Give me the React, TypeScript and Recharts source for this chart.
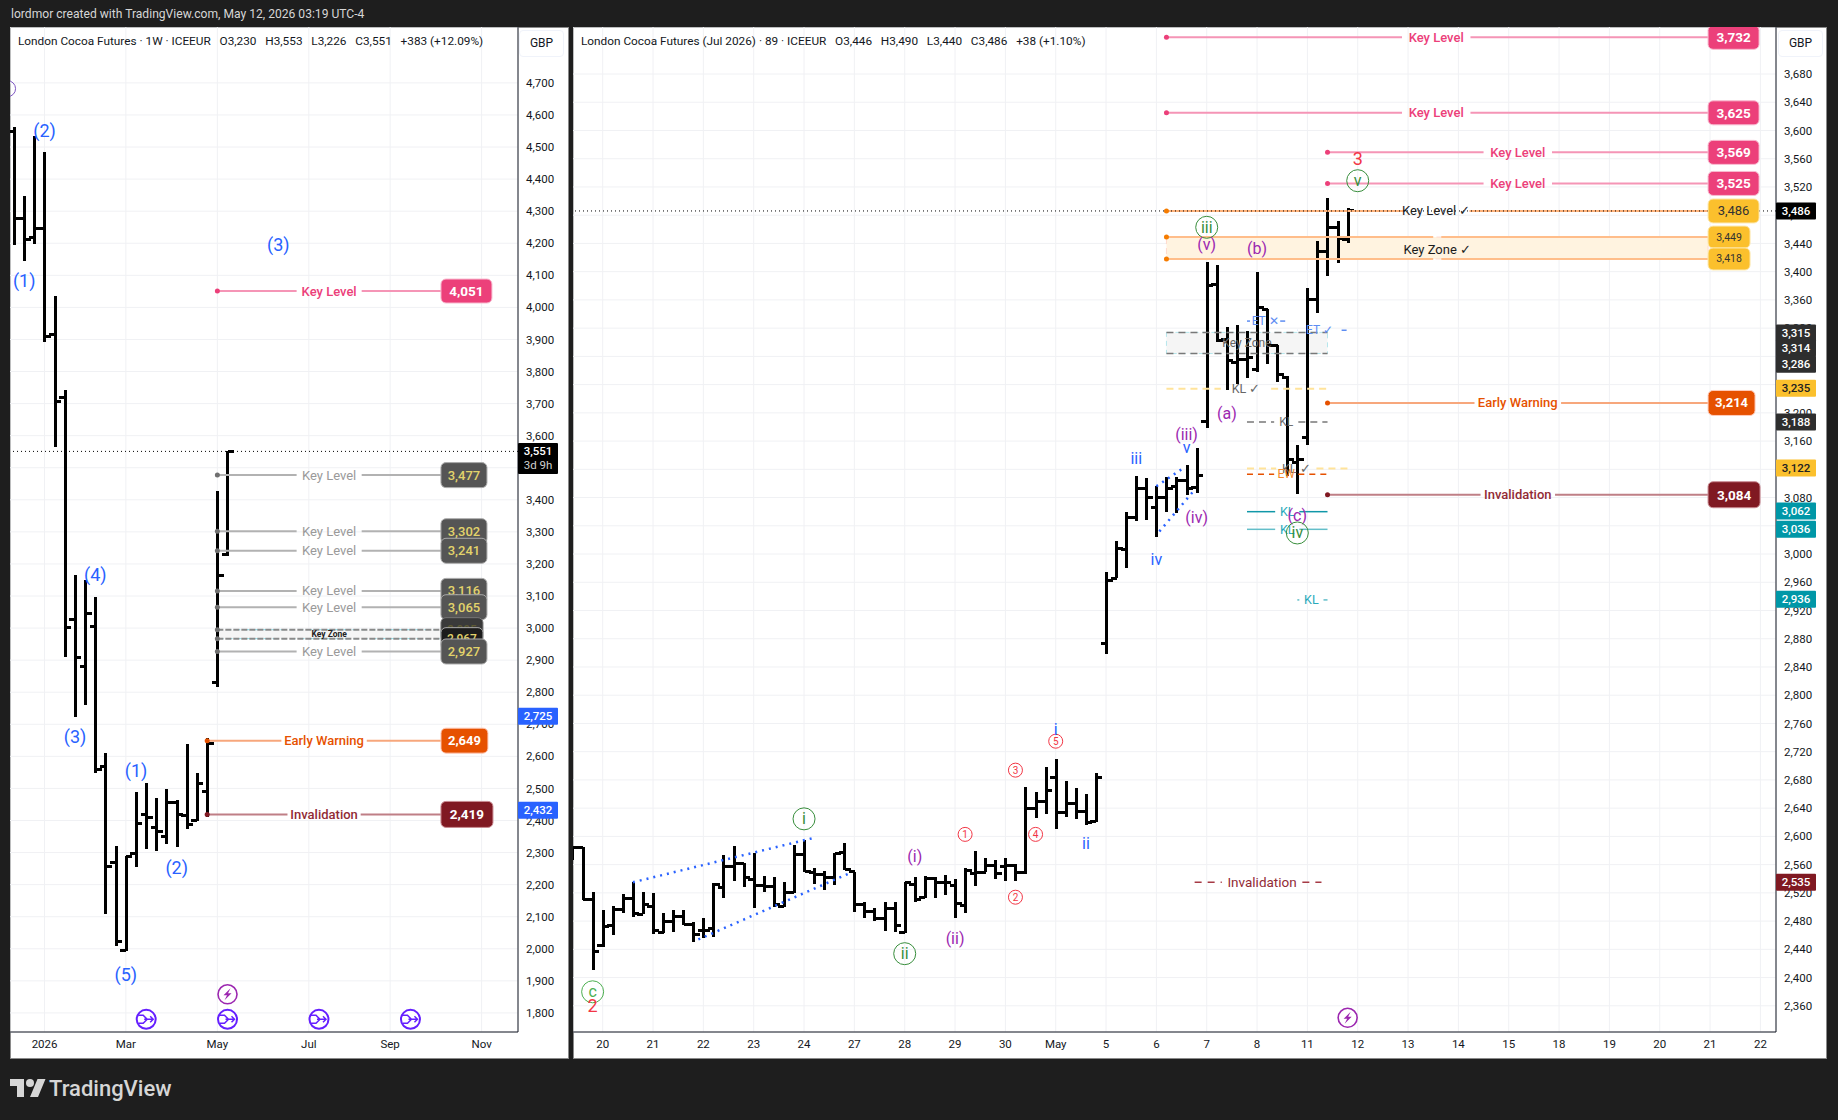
import React from 'react';
import { ComposedChart, Bar, XAxis, YAxis, CartesianGrid, ReferenceLine, ReferenceDot, ReferenceArea } from 'recharts';

const FONT = 'Roboto, "Noto Sans", sans-serif';

/* ---------- weekly chart ---------- */
const weekOpen = [4550,4277,4218,4246,3917,3720,3028,2881,3006,2569,2268,1995,2297,2419,2379,2351,2455,2416,2399,2490,2830,3230];
const weekHigh = [4561,4348,4533,4486,4034,3741,3167,3149,3098,2610,2319,2290,2490,2516,2469,2497,2464,2637,2549,2657,3427,3553];
const weekLow = [4196,4145,4199,3893,3566,2911,2724,2761,2547,2110,2009,1993,2254,2312,2304,2327,2316,2375,2397,2412,2817,3226];
const weekClose = [4277,4212,4246,3909,3705,3003,2909,3045,2560,2258,2023,2288,2390,2410,2366,2455,2419,2388,2516,2639,3165,3551];
const weekTicks = [1800,1900,2000,2100,2200,2300,2400,2500,2600,2700,2800,2900,3000,3100,3200,3300,3400,3500,3600,3700,3800,3900,4000,4100,4200,4300,4400,4500,4600,4700];
const weekDateIdx = [3,11,20,29,37,46];
const weekDateText = ['2026','Mar','May','Jul','Sep','Nov'];

/* ---------- 89 minute chart ---------- */
const hourOpen = [2575,2584,2511,2445,2474,2497,2512,2490,2500,2464,2480,2487,2475,2466,2469,2527,2557,2562,2539,2531,2529,2501,2521,2574,2549,2546,2542,2577,2550,2503,2493,2484,2498,2464,2532,2513,2541,2534,2530,2502,2548,2549,2559,2558,2559,2549,2639,2649,2684,2634,2646,2635,2621,2873,2966,3007,3052,3093,3066,3080,3096,3104,3094,3188,3382,3304,3272,3275,3261,3347,3296,3250,3129,3165,3360,3429,3463,3446];
const hourHigh = [2587,2585,2521,2496,2501,2518,2535,2521,2520,2492,2496,2496,2479,2484,2534,2574,2587,2562,2576,2544,2542,2536,2588,2595,2555,2551,2576,2590,2550,2507,2498,2507,2507,2535,2542,2544,2542,2545,2540,2555,2579,2569,2566,2570,2561,2670,2663,2698,2709,2678,2669,2660,2690,2975,3018,3060,3111,3107,3096,3109,3109,3126,3150,3413,3409,3322,3325,3316,3399,3347,3296,3252,3155,3377,3444,3505,3472,3490];
const hourLow = [2566,2510,2411,2444,2460,2491,2486,2490,2462,2463,2464,2474,2450,2456,2458,2513,2537,2528,2499,2521,2500,2500,2520,2549,2532,2524,2531,2552,2493,2484,2480,2466,2464,2463,2507,2513,2513,2517,2484,2491,2530,2549,2540,2537,2537,2547,2626,2632,2611,2628,2625,2616,2620,2859,2966,2980,3047,3048,3024,3059,3058,3083,3086,3178,3301,3232,3241,3250,3258,3269,3243,3111,3085,3155,3341,3394,3412,3440];
const hourClose = [2584,2511,2437,2473,2497,2512,2491,2504,2466,2480,2487,2475,2461,2466,2532,2557,2562,2542,2531,2529,2503,2521,2574,2550,2546,2542,2576,2553,2503,2493,2483,2498,2474,2534,2510,2541,2534,2535,2505,2551,2549,2559,2547,2559,2549,2639,2649,2665,2634,2646,2635,2620,2684,2963,3008,3052,3093,3080,3080,3093,3104,3093,3111,3381,3303,3274,3275,3279,3349,3295,3255,3134,3134,3360,3429,3463,3447,3486];
const hourTicks = [2360,2400,2440,2480,2520,2560,2600,2640,2680,2720,2760,2800,2840,2880,2920,2960,3000,3040,3080,3120,3160,3200,3240,3280,3320,3360,3400,3440,3480,3520,3560,3600,3640,3680];
const hourDateIdx = [0,5,10,15,20,25,30,35,40,45,50,55,60,65,70,75,80,85,90,95,100,105,110,115];
const hourDateText = ['20','21','22','23','24','27','28','29','30','May','5','6','7','8','11','12','13','14','15','18','19','20','21','22'];

const weekData = weekOpen.map((o, i) => ({ x: i, open: o, high: weekHigh[i], low: weekLow[i], close: weekClose[i], range: [weekLow[i], weekHigh[i]] }));
const hourData = hourOpen.map((o, i) => ({ x: i - 3, open: o, high: hourHigh[i], low: hourLow[i], close: hourClose[i], range: [hourLow[i], hourHigh[i]] }));

/* ---------- annotations: [price, from, to, middle, half gap, text, kind] ---------- */
const weekLevels: any[] = [
  [4051, 20, 42, 31, 3.2, 'Key Level', 'pink'],
  [3477, 20, 42, 31, 3.2, 'Key Level', 'grey'],
  [3302, 20, 42, 31, 3.2, 'Key Level', 'grey'],
  [3241, 20, 42, 31, 3.2, 'Key Level', 'grey'],
  [3116, 20, 42, 31, 3.2, 'Key Level', 'grey'],
  [3065, 20, 42, 31, 3.2, 'Key Level', 'grey'],
  [2995, 20, 42, 31, 0, '', 'zoneGrey'],
  [2967, 20, 42, 31, 0, '', 'zoneBlack'],
  [2927, 20, 42, 31, 3.2, 'Key Level', 'grey'],
  [2649, 19, 42, 30.5, 4.2, 'Early Warning', 'orange'],
  [2419, 19, 42, 30.5, 3.6, 'Invalidation', 'maroon'],
];
const hourLevels: any[] = [
  [3732, 56, 109.8, 82.8, 3.4, 'Key Level', 'pink'],
  [3625, 56, 109.8, 82.8, 3.4, 'Key Level', 'pink'],
  [3569, 72, 109.8, 90.9, 3.4, 'Key Level', 'pink'],
  [3525, 72, 109.8, 90.9, 3.4, 'Key Level', 'pink'],
  [3486, 56, 109.8, 82.8, 3.3, 'Key Level ✓', 'amberBig'],
  [3449, 56, 109.8, 82.9, 0.4, '', 'amber'],
  [3418, 56, 109.8, 82.9, 0.4, '', 'amber'],
  [3214, 72, 109.8, 90.9, 4.3, 'Early Warning', 'orange'],
  [3084, 72, 109.8, 90.9, 3.7, 'Invalidation', 'maroon'],
  [3314, 56, 72, 64, 0, '', 'dashGrey'],
  [3284, 56, 72, 64, 0, '', 'dashGrey'],
  [3330, 64, 68, 65.8, 1.5, 'ET ✕', 'dashBlue'],
  [3317, 69, 74, 71.2, 2.2, 'ET ✓', 'dashBlue'],
  [3234, 56, 72, 63.9, 2.5, 'KL ✓', 'dashYellow'],
  [3187, 64, 72, 67.9, 1.2, 'KL', 'dashGrey'],
  [3121, 64, 74, 68.9, 2, 'KL ✓', 'dashYellow'],
  [3113, 64, 72, 67.9, 1.2, 'EW', 'dashRed'],
  [3060, 64, 72, 68, 1.2, 'KL', 'teal'],
  [3035, 64, 72, 68, 1.2, 'KL', 'tealSoft'],
  [2935, 69, 72, 70.4, 1.2, 'KL', 'tealSoft'],
  [2535, 58.8, 71.4, 65.5, 4, 'Invalidation', 'dashMaroon'],
];
const hourPlainText: any[] = [
  [3431, 82.9, 'Key Zone ✓', 'blackText'],
  [3299, 64, 'Key Zone', 'greyText'],
];
const weekPlainText: any[] = [[2981, 31, 'Key Zone', 'tinyText']];

/* axis tags: [place on the scale, text, kind]; close tags are stacked apart as in the picture */
const weekTags: any[] = [[3551, '3,551', 'clock'], [2725, '2,725', 'blue'], [2432, '2,432', 'blue']];
const hourTags: any[] = [
  [3486, '3,486', 'black'], [3313, '3,315', 'dark'], [3292, '3,314', 'dark'], [3269, '3,286', 'dark'],
  [3235, '3,235', 'yellow'], [3187, '3,188', 'dark'], [3122, '3,122', 'yellow'], [3061, '3,062', 'teal'],
  [3035, '3,036', 'teal'], [2936, '2,936', 'teal'], [2535, '2,535', 'wine'],
];

/* wave counts: [x, price, text, kind] */
const weekWaves: any[] = [
  [3, 4549, '(2)', 'bigBlue'], [1, 4081, '(1)', 'bigBlue'], [26, 4193, '(3)', 'bigBlue'], [8, 3162, '(4)', 'bigBlue'],
  [6, 2659, '(3)', 'bigBlue'], [12, 2553, '(1)', 'bigBlue'], [16, 2249, '(2)', 'bigBlue'], [11, 1915, '(5)', 'bigBlue'],
];
const hourWaves: any[] = [
  [-1, 2378, 'c', 'ringGreenSoft'], [-1, 2358, '2', 'red'], [20, 2623, 'i', 'ringGreen'], [30, 2432, 'ii', 'ringGreen'],
  [31, 2569, '(i)', 'purple'], [35, 2453, '(ii)', 'purple'], [36, 2601, '1', 'ringRed'], [41, 2512, '2', 'ringRed'],
  [41, 2692, '3', 'ringRed'], [43, 2601, '4', 'ringRed'], [45, 2733, '5', 'ringRed'], [45, 2750, 'i', 'blue'],
  [48, 2588, 'ii', 'blue'], [53, 3133, 'iii', 'blue'], [58, 3149, 'v', 'blue'], [58, 3167, '(iii)', 'purple'],
  [59, 3050, '(iv)', 'purple'], [55, 2991, 'iv', 'blue'], [62, 3197, '(a)', 'purple'], [69, 3053, '(c)', 'purple'],
  [69, 3028, 'iv', 'ringGreen'], [60, 3461, 'iii', 'ringGreen'], [60, 3437, '(v)', 'purple'], [65, 3431, '(b)', 'purple'],
  [75, 3558, '3', 'red'], [75, 3527, 'v', 'ringGreen'],
];
/* dotted trend lines: [x1, price1, x2, price2] */
const hourTrends: any[] = [
  [3, 2535, 21, 2598], [9.5, 2454, 24.7, 2549], [55.3, 3032, 58.8, 3091], [55, 3096, 57.6, 3121],
];
/* event icons: [x, price, kind] */
const weekIcons: any[] = [[21, 1858, 'bolt'], [13, 1780, 'arrow'], [21, 1780, 'arrow'], [30, 1780, 'arrow'], [39, 1780, 'arrow']];
const hourIcons: any[] = [[74, 2343, 'bolt']];
const weekBadge: any[] = [[-0.64, 4682]];

/* ---------- styles ---------- */
const levelStyle: Record<string, any> = {
  pink: { line: '#f595b6', w: 2, dot: '#ec407a', color: '#ec407a', fs: 13, fw: 500, box: { fill: '#ec407a', stroke: '#f8bbd0', text: '#fff', w: 51, h: 24, fs: 13.5, fw: 700 } },
  grey: { line: '#b2b2b2', w: 2, dot: '#707070', color: '#9a9a9a', fs: 13, fw: 400, box: { fill: '#555555', stroke: '#aaaaaa', text: '#e2d36b', w: 46, h: 25, fs: 13, fw: 500 } },
  zoneGrey: { line: '#8a8a8a', w: 2, dash: '6 2', dot: '#707070', box: { fill: '#3a3a3a', stroke: '#777', text: '#5e5a35', w: 42, h: 24, fs: 12, fw: 500 } },
  zoneBlack: { line: '#8a8a8a', w: 2, dash: '6 2', dot: '#707070', box: { fill: '#1c1c1c', stroke: '#aaa', text: '#e2d36b', w: 42, h: 22, fs: 12, fw: 500 } },
  orange: { line: '#f7a77c', w: 2, dot: '#e65100', color: '#e65100', fs: 13, fw: 500, box: { fill: '#e65100', stroke: '#ffccbc', text: '#fff', w: 47, h: 25, fs: 13, fw: 700 } },
  maroon: { line: '#bf7f86', w: 2, dot: '#801922', color: '#922b35', fs: 13, fw: 500, box: { fill: '#801922', stroke: '#c98b92', text: '#fff', w: 52, h: 26, fs: 13.5, fw: 700 } },
  amberBig: { line: '#ffb27a', w: 2, dot: '#f57c00', color: '#222', fs: 13, fw: 400, box: { fill: '#fbc02d', stroke: '#fde8ad', text: '#333', w: 51, h: 24, fs: 13, fw: 400 } },
  amber: { line: '#ffbd8a', w: 2, dot: '#f57c00', box: { fill: '#fbc02d', stroke: '#fde8ad', text: '#333', w: 42, h: 22, fs: 10.5, fw: 400 } },
  dashGrey: { line: '#787878', w: 1.5, dash: '7 5', color: '#707070', fs: 12, fw: 400 },
  dashBlue: { line: '#5d8df2', w: 1.5, dash: '5 6', color: '#5d8df2', fs: 12, fw: 400 },
  dashYellow: { line: '#ffe39a', w: 2, dash: '7 5', color: '#666', fs: 12.5, fw: 400 },
  dashRed: { line: '#e65100', w: 1.5, dash: '6 5', color: '#f58a2b', fs: 12, fw: 400 },
  teal: { line: '#1097a8', w: 1.5, color: '#2aa9ba', fs: 12.5, fw: 400 },
  tealSoft: { line: '#63bec9', w: 1.5, color: '#2aa9ba', fs: 12.5, fw: 400 },
  dashMaroon: { line: '#a63a45', w: 1.5, dash: '7 6', color: '#922b35', fs: 13.5, fw: 400 },
};
const plainStyle: Record<string, any> = {
  blackText: { color: '#1c1c1c', fs: 13, fw: 400 },
  greyText: { color: '#666', fs: 12, fw: 400 },
  tinyText: { color: '#222', fs: 8.5, fw: 700 },
};
const tagStyle: Record<string, any> = {
  black: { fill: '#000', text: '#fff' }, clock: { fill: '#000', text: '#fff', sub: '3d 9h' },
  dark: { fill: '#2e2e2e', text: '#fff' }, yellow: { fill: '#fbc02d', text: '#222' },
  teal: { fill: '#0097a7', text: '#fff' }, wine: { fill: '#801922', text: '#fff' }, blue: { fill: '#2962ff', text: '#fff' },
};
const waveStyle: Record<string, any> = {
  bigBlue: { color: '#2962ff', fs: 18 }, blue: { color: '#2962ff', fs: 16 }, purple: { color: '#9c27b0', fs: 16 },
  red: { color: '#f23645', fs: 18 }, ringGreen: { color: '#388e3c', fs: 16, r: 11 }, ringGreenSoft: { color: '#4caf50', fs: 16, r: 11 },
  ringRed: { color: '#f23645', fs: 10, r: 7 },
};

const fmt = (v: number) => v.toLocaleString('en-US');
const at = (x: number, y: number, key: string, node: (cx: number, cy: number) => any) => (
  <ReferenceDot key={key} x={x} y={y} r={0} ifOverflow="visible" isFront shape={(p: any) => node(p.cx, p.cy)} />
);
const label = (cx: number, cy: number, text: string, s: any) => (
  <text x={cx} y={cy} textAnchor="middle" dominantBaseline="central" fill={s.color} fontSize={s.fs} fontWeight={s.fw || 400} fontFamily={FONT}>{text}</text>
);

const OhlcBar = (p: any) => {
  const { x, y, width, height, payload } = p;
  const cx = x + width / 2;
  const top = height >= 0 ? y : y + height;
  const k = Math.abs(height) / Math.max(1, payload.high - payload.low);
  const yo = top + (payload.high - payload.open) * k;
  const yc = top + (payload.high - payload.close) * k;
  return (
    <g stroke="#000" strokeWidth={3} shapeRendering="crispEdges">
      <line x1={cx} x2={cx} y1={top} y2={top + Math.abs(height)} />
      <line x1={cx - 6} x2={cx} y1={yo} y2={yo} />
      <line x1={cx} x2={cx + 6} y1={yc} y2={yc} />
    </g>
  );
};

const levelMarks = (rows: any[], prefix: string) => rows.flatMap((row, i) => {
  const [v, from, to, mid, half, text, kind] = row;
  const s = levelStyle[kind];
  const line = { stroke: s.line, strokeWidth: s.w, strokeDasharray: s.dash, ifOverflow: 'visible' as const };
  const out: any[] = [];
  if (half > 0) {
    out.push(<ReferenceLine key={`${prefix}a${i}`} segment={[{ x: from, y: v }, { x: mid - half, y: v }]} {...line} />);
    out.push(<ReferenceLine key={`${prefix}b${i}`} segment={[{ x: mid + half, y: v }, { x: to, y: v }]} {...line} />);
  } else {
    out.push(<ReferenceLine key={`${prefix}a${i}`} segment={[{ x: from, y: v }, { x: to, y: v }]} {...line} />);
  }
  if (s.dot) out.push(at(from, v, `${prefix}d${i}`, (cx, cy) => <circle cx={cx} cy={cy} r={2.5} fill={s.dot} />));
  if (text) out.push(at(mid, v, `${prefix}t${i}`, (cx, cy) => label(cx, cy, text, s)));
  if (s.box) {
    const b = s.box;
    out.push(at(to, v, `${prefix}x${i}`, (cx, cy) => (
      <g>
        <rect x={cx} y={cy - b.h / 2} width={b.w} height={b.h} rx={5} fill={b.fill} stroke={b.stroke} />
        <text x={cx + b.w / 2} y={cy} textAnchor="middle" dominantBaseline="central" fill={b.text} fontSize={b.fs} fontWeight={b.fw} fontFamily={FONT}>{fmt(v)}</text>
      </g>
    )));
  }
  return out;
});
const plainMarks = (rows: any[], prefix: string) => rows.map((r, i) => at(r[1], r[0], `${prefix}p${i}`, (cx, cy) => label(cx, cy, r[2], plainStyle[r[3]])));
const tagMarks = (rows: any[], xEnd: number, prefix: string) => rows.map((r, i) => {
  const s = tagStyle[r[2]];
  const h = s.sub ? 31 : 17;
  return at(xEnd, r[0], `${prefix}g${i}`, (cx, cy) => (
    <g fontFamily={FONT} fontSize={11.5} textAnchor="middle">
      <rect x={cx} y={cy - 8.5} width={40} height={h} fill={s.fill} rx={1} />
      <text x={cx + 20} y={cy} dominantBaseline="central" fill={s.text} fontWeight={500}>{r[1]}</text>
      {s.sub ? <text x={cx + 20} y={cy + 14} dominantBaseline="central" fill="#cfcfcf">{s.sub}</text> : null}
    </g>
  ));
});
const waveMarks = (rows: any[], prefix: string) => rows.map((r, i) => {
  const s = waveStyle[r[3]];
  return at(r[0], r[1], `${prefix}w${i}`, (cx, cy0) => {
    const cy = cy0 - 1.3;
    return (
      <g>
        {s.r ? <circle cx={cx} cy={cy} r={s.r} fill="none" stroke={s.color} strokeWidth={1} /> : null}
        {label(cx, cy, r[2], s)}
      </g>
    );
  });
});
const iconMarks = (rows: any[], prefix: string) => rows.map((r, i) => at(r[0], r[1], `${prefix}i${i}`, (cx, cy) => (
  r[2] === 'bolt' ? (
    <g>
      <circle cx={cx} cy={cy} r={9.5} fill="#fff" stroke="#9c27b0" strokeWidth={1.6} />
      <path d={`M${cx + 3} ${cy - 6} L${cx - 4} ${cy + 1} L${cx - 0.5} ${cy + 1} L${cx - 3} ${cy + 6} L${cx + 4} ${cy - 1} L${cx + 0.5} ${cy - 1} Z`} fill="#9c27b0" />
    </g>
  ) : (
    <g fill="none" stroke="#651fff" strokeWidth={1.5}>
      <circle cx={cx} cy={cy} r={9.5} fill="#fff" strokeWidth={2} />
      <path d={`M${cx - 8} ${cy - 4} L${cx - 3} ${cy - 4} L${cx + 1} ${cy} L${cx - 3} ${cy + 4} L${cx - 8} ${cy + 4} M${cx - 2} ${cy} L${cx + 7} ${cy} M${cx + 4} ${cy - 3} L${cx + 7} ${cy} L${cx + 4} ${cy + 3}`} />
    </g>
  )
)));

const axisTick = { fontFamily: FONT, fontSize: 11.5, fill: '#131722' };
const panelBox = (l: number, w: number): React.CSSProperties => ({ position: 'absolute', left: l, top: 27, width: w, height: 1032, background: '#fff', outline: '1px solid #8a8a8a', outlineOffset: -1 });
const overlay: React.CSSProperties = { position: 'absolute', left: 0, top: 0 };
const legendStyle = (l: number): React.CSSProperties => ({ position: 'absolute', left: l, top: 7, fontFamily: FONT, fontSize: 11.8, color: '#131722', whiteSpace: 'pre', zIndex: 2 });
const gbpStyle = (l: number): React.CSSProperties => ({ position: 'absolute', left: l, top: 3, width: 43, height: 25, lineHeight: '25px', textAlign: 'center', border: '1px solid #f0f3fa', borderRadius: 4, background: '#fff', fontFamily: FONT, fontSize: 12, color: '#131722', zIndex: 2 });

export default function App() {
  return (
    <div style={{ position: 'absolute', left: 0, top: 0, width: 1838, height: 1120, background: '#1e1e1e', overflow: 'hidden' }}>
      <div style={{ position: 'absolute', left: 11, top: 7, fontFamily: FONT, fontSize: 12.1, color: '#d6d6d6', whiteSpace: 'pre' }}>lordmor created with TradingView.com, May 12, 2026 03:19 UTC-4</div>

      <div style={panelBox(10, 559)}>
        <ComposedChart width={559} height={1032} data={weekData} margin={{ top: 0, right: 0, bottom: 0, left: 0 }}>
          <CartesianGrid stroke="#f0f1f4" />
          <XAxis dataKey="x" type="number" domain={[-0.4, 49.58]} allowDataOverflow ticks={weekDateIdx} interval={0} height={27}
            tickFormatter={(v: number) => weekDateText[weekDateIdx.indexOf(v)]} tickLine={false} stroke="#131722" tick={axisTick} />
          <YAxis orientation="right" type="number" domain={[1740.5, 4874.3]} allowDataOverflow ticks={weekTicks} interval={0} width={51}
            tickFormatter={fmt} tickLine={false} stroke="#131722" tick={axisTick} />
          <ReferenceArea x1={20} x2={42} y1={2967} y2={2995} fill="#f5f5f5" fillOpacity={1} stroke="#8fe3ee" strokeDasharray="5 4" ifOverflow="visible" />
          {levelMarks(weekLevels, 'wl')}
          <Bar dataKey="range" barSize={3} isAnimationActive={false} shape={OhlcBar} />
          <ReferenceLine y={3551} stroke="#000" strokeDasharray="1 3" />
          {plainMarks(weekPlainText, 'wp')}
          {waveMarks(weekWaves, 'ww')}
          {iconMarks(weekIcons, 'wi')}
          {weekBadge.map((b, i) => (
            <ReferenceDot key={`wb${i}`} x={b[0]} y={b[1]} r={8} fill="none" stroke="#7e57c2" ifOverflow="hidden" />
          ))}
        </ComposedChart>
        <div style={overlay}>
          <ComposedChart width={559} height={1032} data={weekData} margin={{ top: 0, right: 51, bottom: 27, left: 0 }}>
            <XAxis dataKey="x" type="number" domain={[-0.4, 49.58]} allowDataOverflow hide />
            <YAxis type="number" domain={[1740.5, 4874.3]} allowDataOverflow hide />
            {tagMarks(weekTags, 49.58, 'wg')}
          </ComposedChart>
        </div>
        <div style={legendStyle(8)}>{'London Cocoa Futures · 1W · ICEEUR   O3,230   H3,553   L3,226   C3,551   +383 (+12.09%)'}</div>
        <div style={gbpStyle(509)}>GBP</div>
      </div>

      <div style={panelBox(573, 1254)}>
        <ComposedChart width={1254} height={1032} data={hourData} margin={{ top: 0, right: 0, bottom: 0, left: 0 }}>
          <CartesianGrid stroke="#f0f1f4" />
          <XAxis dataKey="x" type="number" domain={[-2.95, 116.55]} allowDataOverflow ticks={hourDateIdx} interval={0} height={27}
            tickFormatter={(v: number) => hourDateText[hourDateIdx.indexOf(v)]} tickLine={false} stroke="#131722" tick={axisTick} />
          <YAxis orientation="right" type="number" domain={[2322.9, 3746.6]} allowDataOverflow ticks={hourTicks} interval={0} width={51}
            tickFormatter={fmt} tickLine={false} stroke="#131722" tick={axisTick} />
          <ReferenceArea x1={56} x2={109.8} y1={3418} y2={3449} fill="#fff3e0" fillOpacity={1} stroke="#ffd9cc" strokeDasharray="6 4" ifOverflow="visible" />
          <ReferenceArea x1={56} x2={72} y1={3284} y2={3314} fill="#f5f5f5" fillOpacity={1} stroke="#b5e6ec" strokeDasharray="5 4" ifOverflow="visible" />
          {levelMarks(hourLevels, 'hl')}
          {hourTrends.map((t, i) => (
            <ReferenceLine key={`ht${i}`} segment={[{ x: t[0], y: t[1] }, { x: t[2], y: t[3] }]} stroke="#2962ff" strokeWidth={2.5} strokeDasharray="2 5" ifOverflow="visible" />
          ))}
          <Bar dataKey="range" barSize={3} isAnimationActive={false} shape={OhlcBar} />
          <ReferenceLine y={3486} stroke="#000" strokeDasharray="1 3" />
          {plainMarks(hourPlainText, 'hp')}
          {waveMarks(hourWaves, 'hw')}
          {iconMarks(hourIcons, 'hi')}
        </ComposedChart>
        <div style={overlay}>
          <ComposedChart width={1254} height={1032} data={hourData} margin={{ top: 0, right: 51, bottom: 27, left: 0 }}>
            <XAxis dataKey="x" type="number" domain={[-2.95, 116.55]} allowDataOverflow hide />
            <YAxis type="number" domain={[2322.9, 3746.6]} allowDataOverflow hide />
            {tagMarks(hourTags, 116.55, 'hg')}
          </ComposedChart>
        </div>
        <div style={legendStyle(8)}>{'London Cocoa Futures (Jul 2026) · 89 · ICEEUR   O3,446   H3,490   L3,440   C3,486   +38 (+1.10%)'}</div>
        <div style={gbpStyle(1205)}>GBP</div>
      </div>

      <svg width={36} height={28} viewBox="0 0 36 28" style={{ position: 'absolute', left: 10, top: 1075 }} fill="#d6d6d6">
        <path d="M14 22H7V11H0V4h14v18zM28 22h-8l7.5-18h8L28 22z" />
        <circle cx="20" cy="8" r="4" />
      </svg>
      <div style={{ position: 'absolute', left: 49, top: 1076, fontFamily: FONT, fontSize: 22, fontWeight: 500, color: '#d6d6d6' }}>TradingView</div>
    </div>
  );
}
